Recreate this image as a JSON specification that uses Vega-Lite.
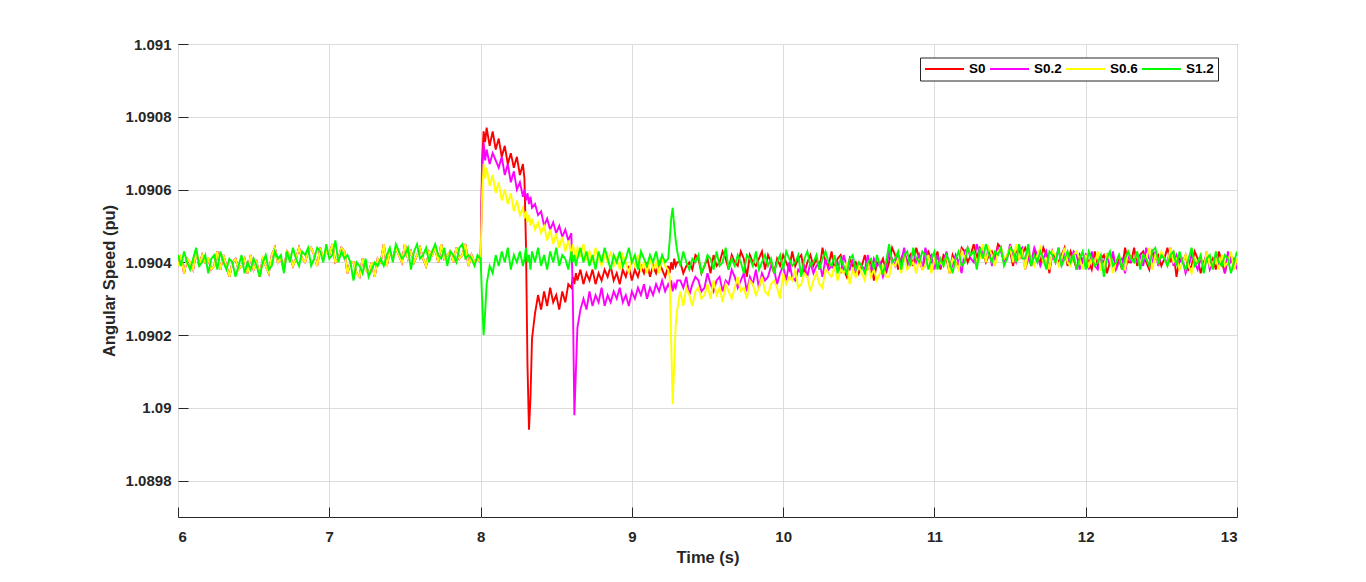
{
  "$schema": "https://vega.github.io/schema/vega-lite/v6.json",
  "width": 1059,
  "height": 473,
  "autosize": "none",
  "padding": {"left": 178, "top": 44, "right": 129, "bottom": 65},
  "background": "white",
  "config": {
    "view": {"stroke": "#262626", "strokeWidth": 1},
    "font": "Liberation Sans",
    "axis": {
      "labelFont": "Liberation Sans",
      "labelFontWeight": "bold",
      "labelFontSize": 15,
      "labelColor": "#262626",
      "titleFont": "Liberation Sans",
      "titleFontWeight": "bold",
      "titleFontSize": 16.5,
      "titleColor": "#262626",
      "domain": false,
      "gridColor": "#dcdcdc",
      "gridWidth": 1,
      "tickColor": "#262626",
      "tickSize": -10
    }
  },
  "data": {
    "values": [
      {"t":6.00,"a":1.09039,"b":1.09039,"c":1.09039,"d":1.09042},
      {"t":6.02,"a":1.09042,"b":1.09042,"c":1.09042,"d":1.09039},
      {"t":6.04,"a":1.09037,"b":1.09037,"c":1.09037,"d":1.09043},
      {"t":6.06,"a":1.09041,"b":1.09041,"c":1.09041,"d":1.0904},
      {"t":6.08,"a":1.0904,"b":1.0904,"c":1.0904,"d":1.09038},
      {"t":6.10,"a":1.09038,"b":1.09038,"c":1.09038,"d":1.09041},
      {"t":6.12,"a":1.09043,"b":1.09043,"c":1.09043,"d":1.09044},
      {"t":6.14,"a":1.09039,"b":1.09039,"c":1.09039,"d":1.09039},
      {"t":6.16,"a":1.09042,"b":1.09042,"c":1.09042,"d":1.0904},
      {"t":6.18,"a":1.0904,"b":1.0904,"c":1.0904,"d":1.09042},
      {"t":6.20,"a":1.09041,"b":1.09041,"c":1.09041,"d":1.09037},
      {"t":6.22,"a":1.09038,"b":1.09038,"c":1.09038,"d":1.09041},
      {"t":6.24,"a":1.09039,"b":1.09039,"c":1.09039,"d":1.09042},
      {"t":6.26,"a":1.09043,"b":1.09043,"c":1.09043,"d":1.09038},
      {"t":6.28,"a":1.09038,"b":1.09038,"c":1.09038,"d":1.09043},
      {"t":6.30,"a":1.09042,"b":1.09042,"c":1.09042,"d":1.0904},
      {"t":6.32,"a":1.09039,"b":1.09039,"c":1.09039,"d":1.09038},
      {"t":6.34,"a":1.09036,"b":1.09036,"c":1.09036,"d":1.09041},
      {"t":6.36,"a":1.0904,"b":1.0904,"c":1.0904,"d":1.0904},
      {"t":6.38,"a":1.09041,"b":1.09041,"c":1.09041,"d":1.09036},
      {"t":6.40,"a":1.09038,"b":1.09038,"c":1.09038,"d":1.09039},
      {"t":6.42,"a":1.09039,"b":1.09039,"c":1.09039,"d":1.09042},
      {"t":6.44,"a":1.09041,"b":1.09041,"c":1.09041,"d":1.09037},
      {"t":6.46,"a":1.09037,"b":1.09037,"c":1.09037,"d":1.0904},
      {"t":6.48,"a":1.09042,"b":1.09042,"c":1.09042,"d":1.09038},
      {"t":6.50,"a":1.09038,"b":1.09038,"c":1.09038,"d":1.09041},
      {"t":6.52,"a":1.0904,"b":1.0904,"c":1.0904,"d":1.09039},
      {"t":6.54,"a":1.09036,"b":1.09036,"c":1.09036,"d":1.09036},
      {"t":6.56,"a":1.09041,"b":1.09041,"c":1.09041,"d":1.0904},
      {"t":6.58,"a":1.09039,"b":1.09039,"c":1.09039,"d":1.09042},
      {"t":6.60,"a":1.09037,"b":1.09037,"c":1.09037,"d":1.09038},
      {"t":6.62,"a":1.09042,"b":1.09042,"c":1.09042,"d":1.09039},
      {"t":6.64,"a":1.09044,"b":1.09044,"c":1.09044,"d":1.09043},
      {"t":6.66,"a":1.0904,"b":1.0904,"c":1.0904,"d":1.09041},
      {"t":6.68,"a":1.09041,"b":1.09041,"c":1.09041,"d":1.09042},
      {"t":6.70,"a":1.09038,"b":1.09038,"c":1.09038,"d":1.09037},
      {"t":6.72,"a":1.09043,"b":1.09043,"c":1.09043,"d":1.09043},
      {"t":6.74,"a":1.09042,"b":1.09042,"c":1.09042,"d":1.0904},
      {"t":6.76,"a":1.09039,"b":1.09039,"c":1.09039,"d":1.09044},
      {"t":6.78,"a":1.09041,"b":1.09041,"c":1.09041,"d":1.09041},
      {"t":6.80,"a":1.09044,"b":1.09044,"c":1.09044,"d":1.09039},
      {"t":6.82,"a":1.09041,"b":1.09041,"c":1.09041,"d":1.09043},
      {"t":6.84,"a":1.0904,"b":1.0904,"c":1.0904,"d":1.09042},
      {"t":6.86,"a":1.09043,"b":1.09043,"c":1.09043,"d":1.09044},
      {"t":6.88,"a":1.09044,"b":1.09044,"c":1.09044,"d":1.09039},
      {"t":6.90,"a":1.09042,"b":1.09042,"c":1.09042,"d":1.09041},
      {"t":6.92,"a":1.09039,"b":1.09039,"c":1.09039,"d":1.09044},
      {"t":6.94,"a":1.09044,"b":1.09044,"c":1.09044,"d":1.09043},
      {"t":6.96,"a":1.09041,"b":1.09041,"c":1.09041,"d":1.0904},
      {"t":6.98,"a":1.09043,"b":1.09043,"c":1.09043,"d":1.09045},
      {"t":7.00,"a":1.09042,"b":1.09042,"c":1.09042,"d":1.09041},
      {"t":7.02,"a":1.09045,"b":1.09045,"c":1.09045,"d":1.09042},
      {"t":7.04,"a":1.0904,"b":1.0904,"c":1.0904,"d":1.09046},
      {"t":7.06,"a":1.09041,"b":1.09041,"c":1.09041,"d":1.0904},
      {"t":7.08,"a":1.09044,"b":1.09044,"c":1.09044,"d":1.09043},
      {"t":7.10,"a":1.09043,"b":1.09043,"c":1.09043,"d":1.09041},
      {"t":7.12,"a":1.09037,"b":1.09037,"c":1.09037,"d":1.09042},
      {"t":7.14,"a":1.0904,"b":1.0904,"c":1.0904,"d":1.0904},
      {"t":7.16,"a":1.0904,"b":1.0904,"c":1.0904,"d":1.09035},
      {"t":7.18,"a":1.09037,"b":1.09037,"c":1.09037,"d":1.0904},
      {"t":7.20,"a":1.09036,"b":1.09036,"c":1.09036,"d":1.09039},
      {"t":7.22,"a":1.09041,"b":1.09041,"c":1.09041,"d":1.09037},
      {"t":7.24,"a":1.09038,"b":1.09038,"c":1.09038,"d":1.09041},
      {"t":7.26,"a":1.09037,"b":1.09037,"c":1.09037,"d":1.09036},
      {"t":7.28,"a":1.0904,"b":1.0904,"c":1.0904,"d":1.09038},
      {"t":7.30,"a":1.09036,"b":1.09036,"c":1.09036,"d":1.0904},
      {"t":7.32,"a":1.09041,"b":1.09041,"c":1.09041,"d":1.09039},
      {"t":7.34,"a":1.0904,"b":1.0904,"c":1.0904,"d":1.09041},
      {"t":7.36,"a":1.09045,"b":1.09045,"c":1.09045,"d":1.09039},
      {"t":7.38,"a":1.09039,"b":1.09039,"c":1.09039,"d":1.09042},
      {"t":7.40,"a":1.09043,"b":1.09043,"c":1.09043,"d":1.09044},
      {"t":7.42,"a":1.09041,"b":1.09041,"c":1.09041,"d":1.0904},
      {"t":7.44,"a":1.09044,"b":1.09044,"c":1.09044,"d":1.09045},
      {"t":7.46,"a":1.09042,"b":1.09042,"c":1.09042,"d":1.09043},
      {"t":7.48,"a":1.0904,"b":1.0904,"c":1.0904,"d":1.09041},
      {"t":7.50,"a":1.09045,"b":1.09045,"c":1.09045,"d":1.09042},
      {"t":7.52,"a":1.09041,"b":1.09041,"c":1.09041,"d":1.09044},
      {"t":7.54,"a":1.09043,"b":1.09043,"c":1.09043,"d":1.09038},
      {"t":7.56,"a":1.0904,"b":1.0904,"c":1.0904,"d":1.09043},
      {"t":7.58,"a":1.09042,"b":1.09042,"c":1.09042,"d":1.09045},
      {"t":7.60,"a":1.09044,"b":1.09044,"c":1.09044,"d":1.09041},
      {"t":7.62,"a":1.09041,"b":1.09041,"c":1.09041,"d":1.09042},
      {"t":7.64,"a":1.09039,"b":1.09039,"c":1.09039,"d":1.09044},
      {"t":7.66,"a":1.09043,"b":1.09043,"c":1.09043,"d":1.0904},
      {"t":7.68,"a":1.09042,"b":1.09042,"c":1.09042,"d":1.09043},
      {"t":7.70,"a":1.09044,"b":1.09044,"c":1.09044,"d":1.09045},
      {"t":7.72,"a":1.0904,"b":1.0904,"c":1.0904,"d":1.09042},
      {"t":7.74,"a":1.09045,"b":1.09045,"c":1.09045,"d":1.09041},
      {"t":7.76,"a":1.09041,"b":1.09041,"c":1.09041,"d":1.09044},
      {"t":7.78,"a":1.09042,"b":1.09042,"c":1.09042,"d":1.09039},
      {"t":7.80,"a":1.09043,"b":1.09043,"c":1.09043,"d":1.09043},
      {"t":7.82,"a":1.0904,"b":1.0904,"c":1.0904,"d":1.09042},
      {"t":7.84,"a":1.09044,"b":1.09044,"c":1.09044,"d":1.0904},
      {"t":7.86,"a":1.09041,"b":1.09041,"c":1.09041,"d":1.09044},
      {"t":7.88,"a":1.09042,"b":1.09042,"c":1.09042,"d":1.09045},
      {"t":7.90,"a":1.09045,"b":1.09045,"c":1.09045,"d":1.09041},
      {"t":7.92,"a":1.09039,"b":1.09039,"c":1.09039,"d":1.09042},
      {"t":7.94,"a":1.09042,"b":1.09042,"c":1.09042,"d":1.09041},
      {"t":7.96,"a":1.0904,"b":1.0904,"c":1.0904,"d":1.09039},
      {"t":7.98,"a":1.09041,"b":1.09041,"c":1.09041,"d":1.09042},
      {"t":8.00,"a":1.0904,"b":1.0904,"c":1.0904,"d":1.09041},
      {"t":8.01,"a":1.09068,"b":1.09064,"c":1.09058,"d":1.0903},
      {"t":8.02,"a":1.09076,"b":1.09073,"c":1.09067,"d":1.0902},
      {"t":8.03,"a":1.09073,"b":1.09068,"c":1.09063,"d":1.09026},
      {"t":8.04,"a":1.09077,"b":1.09071,"c":1.09066,"d":1.09034},
      {"t":8.06,"a":1.09072,"b":1.09067,"c":1.09061,"d":1.09039},
      {"t":8.08,"a":1.09076,"b":1.0907,"c":1.09064,"d":1.09037},
      {"t":8.10,"a":1.09071,"b":1.09068,"c":1.09059,"d":1.09042},
      {"t":8.12,"a":1.09074,"b":1.09066,"c":1.09062,"d":1.09039},
      {"t":8.14,"a":1.09069,"b":1.09069,"c":1.09057,"d":1.09043},
      {"t":8.16,"a":1.09072,"b":1.09064,"c":1.0906,"d":1.0904},
      {"t":8.18,"a":1.09067,"b":1.09067,"c":1.09056,"d":1.09044},
      {"t":8.20,"a":1.0907,"b":1.09062,"c":1.09059,"d":1.09038},
      {"t":8.22,"a":1.09066,"b":1.09065,"c":1.09054,"d":1.09042},
      {"t":8.24,"a":1.09069,"b":1.0906,"c":1.09057,"d":1.0904},
      {"t":8.26,"a":1.09064,"b":1.09062,"c":1.09053,"d":1.09043},
      {"t":8.28,"a":1.09067,"b":1.09058,"c":1.09055,"d":1.09039},
      {"t":8.29,"a":1.09063,"b":1.0906,"c":1.09052,"d":1.09041},
      {"t":8.30,"a":1.09045,"b":1.09057,"c":1.09054,"d":1.09044},
      {"t":8.31,"a":1.09012,"b":1.09059,"c":1.09051,"d":1.0904},
      {"t":8.32,"a":1.08994,"b":1.09056,"c":1.09053,"d":1.09042},
      {"t":8.33,"a":1.09003,"b":1.09058,"c":1.0905,"d":1.09038},
      {"t":8.34,"a":1.09019,"b":1.09055,"c":1.09052,"d":1.09043},
      {"t":8.36,"a":1.09026,"b":1.09056,"c":1.09049,"d":1.0904},
      {"t":8.38,"a":1.09031,"b":1.09053,"c":1.09051,"d":1.09044},
      {"t":8.40,"a":1.09027,"b":1.09054,"c":1.09048,"d":1.09039},
      {"t":8.42,"a":1.09032,"b":1.0905,"c":1.0905,"d":1.09042},
      {"t":8.44,"a":1.09028,"b":1.09052,"c":1.09046,"d":1.09038},
      {"t":8.46,"a":1.09033,"b":1.09049,"c":1.09049,"d":1.09043},
      {"t":8.48,"a":1.09029,"b":1.09051,"c":1.09045,"d":1.0904},
      {"t":8.50,"a":1.09031,"b":1.09048,"c":1.09048,"d":1.09044},
      {"t":8.52,"a":1.09027,"b":1.0905,"c":1.09044,"d":1.09039},
      {"t":8.54,"a":1.09032,"b":1.09047,"c":1.09047,"d":1.09042},
      {"t":8.56,"a":1.09029,"b":1.09049,"c":1.09043,"d":1.09041},
      {"t":8.58,"a":1.09034,"b":1.09046,"c":1.09046,"d":1.09038},
      {"t":8.60,"a":1.09033,"b":1.09048,"c":1.09042,"d":1.09043},
      {"t":8.61,"a":1.09036,"b":1.0903,"c":1.09045,"d":1.0904},
      {"t":8.62,"a":1.09034,"b":1.08998,"c":1.09043,"d":1.09042},
      {"t":8.63,"a":1.09037,"b":1.0901,"c":1.09041,"d":1.09039},
      {"t":8.64,"a":1.09035,"b":1.09022,"c":1.09044,"d":1.09041},
      {"t":8.66,"a":1.09038,"b":1.09027,"c":1.09042,"d":1.09044},
      {"t":8.68,"a":1.09034,"b":1.0903,"c":1.09045,"d":1.0904},
      {"t":8.70,"a":1.09037,"b":1.09027,"c":1.09041,"d":1.09043},
      {"t":8.72,"a":1.09035,"b":1.09032,"c":1.09043,"d":1.09039},
      {"t":8.74,"a":1.09038,"b":1.09028,"c":1.0904,"d":1.09042},
      {"t":8.76,"a":1.09034,"b":1.09031,"c":1.09044,"d":1.09038},
      {"t":8.78,"a":1.09037,"b":1.09029,"c":1.09041,"d":1.09043},
      {"t":8.80,"a":1.09035,"b":1.09033,"c":1.09039,"d":1.0904},
      {"t":8.82,"a":1.09038,"b":1.09028,"c":1.09042,"d":1.09044},
      {"t":8.84,"a":1.09036,"b":1.09031,"c":1.0904,"d":1.09041},
      {"t":8.86,"a":1.09039,"b":1.09029,"c":1.09043,"d":1.09038},
      {"t":8.88,"a":1.09035,"b":1.09032,"c":1.09039,"d":1.09042},
      {"t":8.90,"a":1.09037,"b":1.0903,"c":1.09041,"d":1.0904},
      {"t":8.92,"a":1.09034,"b":1.09033,"c":1.09038,"d":1.09043},
      {"t":8.94,"a":1.09038,"b":1.09029,"c":1.09042,"d":1.09039},
      {"t":8.96,"a":1.09036,"b":1.09031,"c":1.0904,"d":1.09041},
      {"t":8.98,"a":1.09039,"b":1.09028,"c":1.09037,"d":1.09044},
      {"t":9.00,"a":1.09035,"b":1.09032,"c":1.09041,"d":1.0904},
      {"t":9.02,"a":1.09038,"b":1.0903,"c":1.09039,"d":1.09042},
      {"t":9.04,"a":1.09036,"b":1.09033,"c":1.09042,"d":1.09038},
      {"t":9.06,"a":1.09039,"b":1.09031,"c":1.09038,"d":1.09043},
      {"t":9.08,"a":1.09037,"b":1.09034,"c":1.0904,"d":1.09041},
      {"t":9.10,"a":1.0904,"b":1.0903,"c":1.09037,"d":1.09039},
      {"t":9.12,"a":1.09036,"b":1.09033,"c":1.09041,"d":1.09042},
      {"t":9.14,"a":1.09039,"b":1.09031,"c":1.09038,"d":1.0904},
      {"t":9.16,"a":1.09037,"b":1.09034,"c":1.0904,"d":1.09043},
      {"t":9.18,"a":1.0904,"b":1.09032,"c":1.09037,"d":1.09039},
      {"t":9.20,"a":1.09038,"b":1.09035,"c":1.09041,"d":1.09042},
      {"t":9.22,"a":1.09036,"b":1.09032,"c":1.09039,"d":1.0904},
      {"t":9.24,"a":1.09039,"b":1.09034,"c":1.09038,"d":1.09041},
      {"t":9.25,"a":1.09037,"b":1.09033,"c":1.09036,"d":1.09046},
      {"t":9.26,"a":1.0904,"b":1.09035,"c":1.09018,"d":1.09052},
      {"t":9.27,"a":1.09038,"b":1.09032,"c":1.09001,"d":1.09055},
      {"t":9.28,"a":1.09041,"b":1.09034,"c":1.09012,"d":1.0905},
      {"t":9.29,"a":1.09039,"b":1.09033,"c":1.09023,"d":1.09046},
      {"t":9.30,"a":1.0904,"b":1.09035,"c":1.09027,"d":1.09043},
      {"t":9.32,"a":1.0904,"b":1.09035,"c":1.09032,"d":1.09039},
      {"t":9.34,"a":1.09037,"b":1.09033,"c":1.09028,"d":1.09043},
      {"t":9.36,"a":1.09039,"b":1.09036,"c":1.09033,"d":1.0904},
      {"t":9.38,"a":1.0904,"b":1.09031,"c":1.09031,"d":1.09038},
      {"t":9.40,"a":1.09038,"b":1.09034,"c":1.09028,"d":1.09041},
      {"t":9.42,"a":1.09042,"b":1.09036,"c":1.09032,"d":1.0904},
      {"t":9.44,"a":1.09041,"b":1.09035,"c":1.09033,"d":1.09042},
      {"t":9.46,"a":1.09037,"b":1.09032,"c":1.0903,"d":1.09037},
      {"t":9.48,"a":1.09039,"b":1.09033,"c":1.09031,"d":1.09039},
      {"t":9.50,"a":1.09041,"b":1.09037,"c":1.09034,"d":1.09042},
      {"t":9.52,"a":1.09037,"b":1.09034,"c":1.0903,"d":1.09041},
      {"t":9.54,"a":1.09042,"b":1.09032,"c":1.09035,"d":1.09038},
      {"t":9.56,"a":1.09039,"b":1.09035,"c":1.09031,"d":1.09043},
      {"t":9.58,"a":1.0904,"b":1.09036,"c":1.09033,"d":1.09039},
      {"t":9.60,"a":1.09043,"b":1.09032,"c":1.09029,"d":1.0904},
      {"t":9.62,"a":1.09041,"b":1.09035,"c":1.09034,"d":1.09044},
      {"t":9.64,"a":1.09038,"b":1.09034,"c":1.09032,"d":1.09038},
      {"t":9.66,"a":1.09042,"b":1.09038,"c":1.0903,"d":1.09041},
      {"t":9.68,"a":1.0904,"b":1.09036,"c":1.09033,"d":1.09039},
      {"t":9.70,"a":1.09039,"b":1.09033,"c":1.09036,"d":1.09042},
      {"t":9.72,"a":1.09043,"b":1.09035,"c":1.09032,"d":1.0904},
      {"t":9.74,"a":1.09041,"b":1.09037,"c":1.09033,"d":1.09037},
      {"t":9.76,"a":1.09036,"b":1.09032,"c":1.0903,"d":1.09042},
      {"t":9.78,"a":1.09042,"b":1.09036,"c":1.09035,"d":1.09041},
      {"t":9.80,"a":1.0904,"b":1.09034,"c":1.09034,"d":1.09039},
      {"t":9.82,"a":1.09039,"b":1.09038,"c":1.09031,"d":1.09043},
      {"t":9.84,"a":1.09041,"b":1.09033,"c":1.09033,"d":1.09038},
      {"t":9.86,"a":1.09043,"b":1.09037,"c":1.09036,"d":1.0904},
      {"t":9.88,"a":1.09038,"b":1.09035,"c":1.09032,"d":1.09042},
      {"t":9.90,"a":1.09042,"b":1.09036,"c":1.09031,"d":1.09039},
      {"t":9.92,"a":1.0904,"b":1.09039,"c":1.09034,"d":1.09041},
      {"t":9.94,"a":1.09037,"b":1.09038,"c":1.09035,"d":1.09037},
      {"t":9.96,"a":1.09041,"b":1.09034,"c":1.09033,"d":1.0904},
      {"t":9.98,"a":1.09039,"b":1.09037,"c":1.0903,"d":1.09042},
      {"t":10.00,"a":1.09042,"b":1.09039,"c":1.09037,"d":1.09038},
      {"t":10.02,"a":1.0904,"b":1.09035,"c":1.09034,"d":1.09043},
      {"t":10.04,"a":1.09038,"b":1.0904,"c":1.09036,"d":1.09041},
      {"t":10.06,"a":1.09043,"b":1.09036,"c":1.09035,"d":1.09039},
      {"t":10.08,"a":1.09039,"b":1.09035,"c":1.09038,"d":1.0904},
      {"t":10.10,"a":1.09041,"b":1.09038,"c":1.09033,"d":1.09042},
      {"t":10.12,"a":1.09042,"b":1.09037,"c":1.09034,"d":1.09036},
      {"t":10.14,"a":1.09037,"b":1.09039,"c":1.09037,"d":1.09041},
      {"t":10.16,"a":1.0904,"b":1.09036,"c":1.09036,"d":1.09043},
      {"t":10.18,"a":1.09042,"b":1.0904,"c":1.09032,"d":1.09039},
      {"t":10.20,"a":1.09039,"b":1.09037,"c":1.09035,"d":1.0904},
      {"t":10.22,"a":1.09041,"b":1.09039,"c":1.09037,"d":1.09042},
      {"t":10.24,"a":1.09038,"b":1.0904,"c":1.09034,"d":1.09038},
      {"t":10.26,"a":1.09044,"b":1.09036,"c":1.09033,"d":1.09041},
      {"t":10.28,"a":1.0904,"b":1.09041,"c":1.09038,"d":1.09043},
      {"t":10.30,"a":1.09039,"b":1.09038,"c":1.09037,"d":1.0904},
      {"t":10.32,"a":1.09043,"b":1.09039,"c":1.09036,"d":1.09039},
      {"t":10.34,"a":1.09038,"b":1.09038,"c":1.09039,"d":1.09042},
      {"t":10.36,"a":1.09041,"b":1.0904,"c":1.09035,"d":1.09037},
      {"t":10.38,"a":1.09042,"b":1.09037,"c":1.09038,"d":1.09041},
      {"t":10.40,"a":1.09038,"b":1.09042,"c":1.09037,"d":1.09039},
      {"t":10.42,"a":1.09036,"b":1.09039,"c":1.0904,"d":1.09037},
      {"t":10.44,"a":1.09041,"b":1.09038,"c":1.09034,"d":1.09041},
      {"t":10.46,"a":1.09039,"b":1.09041,"c":1.09038,"d":1.09042},
      {"t":10.48,"a":1.0904,"b":1.09037,"c":1.09036,"d":1.09038},
      {"t":10.50,"a":1.09037,"b":1.0904,"c":1.09039,"d":1.0904},
      {"t":10.52,"a":1.09039,"b":1.09039,"c":1.09037,"d":1.09039},
      {"t":10.54,"a":1.09042,"b":1.09038,"c":1.09035,"d":1.09037},
      {"t":10.56,"a":1.09038,"b":1.09042,"c":1.0904,"d":1.0904},
      {"t":10.58,"a":1.09041,"b":1.09037,"c":1.09036,"d":1.09041},
      {"t":10.60,"a":1.09035,"b":1.09041,"c":1.09038,"d":1.09038},
      {"t":10.62,"a":1.0904,"b":1.09039,"c":1.09035,"d":1.09042},
      {"t":10.64,"a":1.09039,"b":1.0904,"c":1.09037,"d":1.09039},
      {"t":10.66,"a":1.09041,"b":1.09036,"c":1.09039,"d":1.09037},
      {"t":10.68,"a":1.09037,"b":1.09038,"c":1.09036,"d":1.0904},
      {"t":10.70,"a":1.0904,"b":1.09043,"c":1.09036,"d":1.09045},
      {"t":10.72,"a":1.09044,"b":1.09041,"c":1.0904,"d":1.0904},
      {"t":10.74,"a":1.09042,"b":1.09039,"c":1.09039,"d":1.09041},
      {"t":10.76,"a":1.09038,"b":1.09042,"c":1.09041,"d":1.09043},
      {"t":10.78,"a":1.09041,"b":1.0904,"c":1.09037,"d":1.09038},
      {"t":10.80,"a":1.09043,"b":1.09044,"c":1.09042,"d":1.09042},
      {"t":10.82,"a":1.0904,"b":1.09039,"c":1.09038,"d":1.09043},
      {"t":10.84,"a":1.09042,"b":1.09041,"c":1.09039,"d":1.09039},
      {"t":10.86,"a":1.09039,"b":1.09043,"c":1.0904,"d":1.09044},
      {"t":10.88,"a":1.09044,"b":1.0904,"c":1.09037,"d":1.09041},
      {"t":10.90,"a":1.09041,"b":1.09042,"c":1.09041,"d":1.0904},
      {"t":10.92,"a":1.09038,"b":1.09038,"c":1.09038,"d":1.09043},
      {"t":10.94,"a":1.09042,"b":1.09044,"c":1.09039,"d":1.09042},
      {"t":10.96,"a":1.09043,"b":1.09041,"c":1.09042,"d":1.09038},
      {"t":10.98,"a":1.0904,"b":1.09042,"c":1.09037,"d":1.09041},
      {"t":11.00,"a":1.0904,"b":1.09038,"c":1.09041,"d":1.09043},
      {"t":11.02,"a":1.09043,"b":1.09042,"c":1.09039,"d":1.09038},
      {"t":11.04,"a":1.09038,"b":1.09039,"c":1.0904,"d":1.09041},
      {"t":11.06,"a":1.09042,"b":1.0904,"c":1.09039,"d":1.09039},
      {"t":11.08,"a":1.09041,"b":1.09043,"c":1.09042,"d":1.09042},
      {"t":11.10,"a":1.09037,"b":1.09038,"c":1.09037,"d":1.0904},
      {"t":11.12,"a":1.09042,"b":1.09039,"c":1.09041,"d":1.09037},
      {"t":11.14,"a":1.0904,"b":1.09042,"c":1.0904,"d":1.09041},
      {"t":11.16,"a":1.09039,"b":1.0904,"c":1.09038,"d":1.09043},
      {"t":11.18,"a":1.09044,"b":1.09037,"c":1.09043,"d":1.09039},
      {"t":11.20,"a":1.09043,"b":1.09043,"c":1.09041,"d":1.0904},
      {"t":11.22,"a":1.0904,"b":1.09044,"c":1.09044,"d":1.09044},
      {"t":11.24,"a":1.09042,"b":1.09041,"c":1.09042,"d":1.09042},
      {"t":11.26,"a":1.09045,"b":1.0904,"c":1.09043,"d":1.09043},
      {"t":11.28,"a":1.09041,"b":1.09045,"c":1.0904,"d":1.09038},
      {"t":11.30,"a":1.09044,"b":1.09042,"c":1.09041,"d":1.09044},
      {"t":11.32,"a":1.09043,"b":1.09043,"c":1.09045,"d":1.09041},
      {"t":11.34,"a":1.0904,"b":1.09041,"c":1.0904,"d":1.09045},
      {"t":11.36,"a":1.09042,"b":1.09044,"c":1.09044,"d":1.09042},
      {"t":11.38,"a":1.09043,"b":1.09039,"c":1.09042,"d":1.0904},
      {"t":11.40,"a":1.09041,"b":1.09042,"c":1.09039,"d":1.09043},
      {"t":11.42,"a":1.09045,"b":1.09044,"c":1.09043,"d":1.09042},
      {"t":11.44,"a":1.09044,"b":1.09043,"c":1.09044,"d":1.09044},
      {"t":11.46,"a":1.0904,"b":1.0904,"c":1.09041,"d":1.09039},
      {"t":11.48,"a":1.09042,"b":1.09041,"c":1.09042,"d":1.09041},
      {"t":11.50,"a":1.09043,"b":1.09045,"c":1.09044,"d":1.09044},
      {"t":11.52,"a":1.09039,"b":1.09042,"c":1.0904,"d":1.09043},
      {"t":11.54,"a":1.09044,"b":1.0904,"c":1.09045,"d":1.0904},
      {"t":11.56,"a":1.09041,"b":1.09043,"c":1.09041,"d":1.09045},
      {"t":11.58,"a":1.09042,"b":1.09044,"c":1.09043,"d":1.09041},
      {"t":11.60,"a":1.09044,"b":1.09038,"c":1.09038,"d":1.09041},
      {"t":11.62,"a":1.09042,"b":1.09041,"c":1.09043,"d":1.09045},
      {"t":11.64,"a":1.09039,"b":1.0904,"c":1.09041,"d":1.09039},
      {"t":11.66,"a":1.09043,"b":1.09044,"c":1.09039,"d":1.09042},
      {"t":11.68,"a":1.09041,"b":1.09042,"c":1.09042,"d":1.0904},
      {"t":11.70,"a":1.0904,"b":1.09039,"c":1.09044,"d":1.09043},
      {"t":11.72,"a":1.09044,"b":1.09041,"c":1.0904,"d":1.09041},
      {"t":11.74,"a":1.09042,"b":1.09043,"c":1.09041,"d":1.09038},
      {"t":11.76,"a":1.09037,"b":1.09038,"c":1.09038,"d":1.09043},
      {"t":11.78,"a":1.09043,"b":1.09042,"c":1.09043,"d":1.09042},
      {"t":11.80,"a":1.09041,"b":1.0904,"c":1.09042,"d":1.0904},
      {"t":11.82,"a":1.0904,"b":1.09044,"c":1.09039,"d":1.09044},
      {"t":11.84,"a":1.09042,"b":1.09039,"c":1.09041,"d":1.09039},
      {"t":11.86,"a":1.09044,"b":1.09043,"c":1.09044,"d":1.09041},
      {"t":11.88,"a":1.09039,"b":1.09041,"c":1.0904,"d":1.09043},
      {"t":11.90,"a":1.09043,"b":1.0904,"c":1.09039,"d":1.0904},
      {"t":11.92,"a":1.09041,"b":1.09043,"c":1.09042,"d":1.09042},
      {"t":11.94,"a":1.09038,"b":1.09042,"c":1.09043,"d":1.09038},
      {"t":11.96,"a":1.09042,"b":1.09038,"c":1.09041,"d":1.09041},
      {"t":11.98,"a":1.0904,"b":1.09041,"c":1.09038,"d":1.09043},
      {"t":12.00,"a":1.09042,"b":1.09042,"c":1.09042,"d":1.09038},
      {"t":12.02,"a":1.0904,"b":1.09038,"c":1.09039,"d":1.09043},
      {"t":12.04,"a":1.09038,"b":1.09043,"c":1.09041,"d":1.09041},
      {"t":12.06,"a":1.09043,"b":1.09039,"c":1.0904,"d":1.09039},
      {"t":12.08,"a":1.09039,"b":1.09038,"c":1.09043,"d":1.0904},
      {"t":12.10,"a":1.09041,"b":1.09041,"c":1.09038,"d":1.09042},
      {"t":12.12,"a":1.09042,"b":1.0904,"c":1.09039,"d":1.09036},
      {"t":12.14,"a":1.09037,"b":1.09042,"c":1.09042,"d":1.09041},
      {"t":12.16,"a":1.0904,"b":1.09039,"c":1.09041,"d":1.09043},
      {"t":12.18,"a":1.09042,"b":1.09043,"c":1.09037,"d":1.09039},
      {"t":12.20,"a":1.09039,"b":1.09038,"c":1.0904,"d":1.0904},
      {"t":12.22,"a":1.09041,"b":1.0904,"c":1.09042,"d":1.09042},
      {"t":12.24,"a":1.09038,"b":1.09041,"c":1.09039,"d":1.09038},
      {"t":12.26,"a":1.09044,"b":1.09037,"c":1.09038,"d":1.09041},
      {"t":12.28,"a":1.0904,"b":1.09042,"c":1.09043,"d":1.09043},
      {"t":12.30,"a":1.0904,"b":1.0904,"c":1.09041,"d":1.09041},
      {"t":12.32,"a":1.09044,"b":1.09041,"c":1.0904,"d":1.0904},
      {"t":12.34,"a":1.09039,"b":1.0904,"c":1.09043,"d":1.09043},
      {"t":12.36,"a":1.09042,"b":1.09042,"c":1.09039,"d":1.09038},
      {"t":12.38,"a":1.09043,"b":1.09039,"c":1.09042,"d":1.09042},
      {"t":12.40,"a":1.0904,"b":1.09044,"c":1.09041,"d":1.09041},
      {"t":12.42,"a":1.09038,"b":1.09041,"c":1.09044,"d":1.09039},
      {"t":12.44,"a":1.09043,"b":1.0904,"c":1.09038,"d":1.09043},
      {"t":12.46,"a":1.09041,"b":1.09043,"c":1.09042,"d":1.09044},
      {"t":12.48,"a":1.09042,"b":1.09039,"c":1.0904,"d":1.0904},
      {"t":12.50,"a":1.09039,"b":1.09042,"c":1.09043,"d":1.09042},
      {"t":12.52,"a":1.09041,"b":1.09041,"c":1.09041,"d":1.09041},
      {"t":12.54,"a":1.09044,"b":1.0904,"c":1.09039,"d":1.09039},
      {"t":12.56,"a":1.0904,"b":1.09044,"c":1.09044,"d":1.09042},
      {"t":12.58,"a":1.09043,"b":1.09039,"c":1.0904,"d":1.09043},
      {"t":12.60,"a":1.09036,"b":1.09042,"c":1.09041,"d":1.09039},
      {"t":12.62,"a":1.09041,"b":1.0904,"c":1.09038,"d":1.09043},
      {"t":12.64,"a":1.0904,"b":1.09041,"c":1.0904,"d":1.0904},
      {"t":12.66,"a":1.09042,"b":1.09037,"c":1.09042,"d":1.09038},
      {"t":12.68,"a":1.09038,"b":1.09039,"c":1.09039,"d":1.09041},
      {"t":12.70,"a":1.09039,"b":1.09042,"c":1.09037,"d":1.09044},
      {"t":12.72,"a":1.09043,"b":1.0904,"c":1.09041,"d":1.09039},
      {"t":12.74,"a":1.09041,"b":1.09038,"c":1.0904,"d":1.0904},
      {"t":12.76,"a":1.09037,"b":1.09041,"c":1.09042,"d":1.09042},
      {"t":12.78,"a":1.0904,"b":1.09039,"c":1.09038,"d":1.09037},
      {"t":12.80,"a":1.09042,"b":1.09043,"c":1.09043,"d":1.09041},
      {"t":12.82,"a":1.09039,"b":1.09038,"c":1.09039,"d":1.09042},
      {"t":12.84,"a":1.09041,"b":1.0904,"c":1.0904,"d":1.09038},
      {"t":12.86,"a":1.09038,"b":1.09042,"c":1.09041,"d":1.09043},
      {"t":12.88,"a":1.09043,"b":1.09039,"c":1.09038,"d":1.0904},
      {"t":12.90,"a":1.0904,"b":1.09041,"c":1.09042,"d":1.09039},
      {"t":12.92,"a":1.09037,"b":1.09037,"c":1.09039,"d":1.09042},
      {"t":12.94,"a":1.09041,"b":1.09043,"c":1.0904,"d":1.09041},
      {"t":12.96,"a":1.09042,"b":1.0904,"c":1.09043,"d":1.09037},
      {"t":12.98,"a":1.09039,"b":1.09041,"c":1.09038,"d":1.0904},
      {"t":13.00,"a":1.0904,"b":1.09038,"c":1.09041,"d":1.09043}
    ]
  },
  "transform": [{"fold": ["a", "b", "c", "d"], "as": ["s", "v"]}],
  "mark": {"type": "line", "clip": true},
  "encoding": {
    "x": {
      "field": "t",
      "type": "quantitative",
      "title": "Time (s)",
      "scale": {"domain": [6, 13], "nice": false, "zero": false},
      "axis": {"values": [6, 7, 8, 9, 10, 11, 12, 13], "labelPadding": 22, "titlePadding": 5}
    },
    "y": {
      "field": "v",
      "type": "quantitative",
      "title": "Angular Speed (pu)",
      "scale": {"domain": [1.0897, 1.091], "nice": false, "zero": false},
      "axis": {
        "values": [1.0898, 1.09, 1.0902, 1.0904, 1.0906, 1.0908, 1.091],
        "format": ".4~f",
        "labelPadding": 17,
        "titlePadding": 8
      }
    },
    "strokeWidth": {
      "field": "s",
      "type": "nominal",
      "scale": {"domain": ["a", "b", "c", "d"], "range": [1.9, 1.9, 2.3, 1.9]},
      "legend": null
    },
    "color": {
      "field": "s",
      "type": "nominal",
      "scale": {"domain": ["a", "b", "c", "d"], "range": ["#ff0000", "#ff00ff", "#ffff00", "#00ff00"]},
      "legend": {
        "orient": "none",
        "legendX": 742,
        "legendY": 13.5,
        "direction": "horizontal",
        "title": null,
        "symbolType": "stroke",
        "symbolSize": 1521,
        "symbolStrokeWidth": 1.5,
        "clipHeight": 15,
        "labelFont": "Liberation Sans",
        "labelFontWeight": "bold",
        "labelFontSize": 13.5,
        "labelColor": "black",
        "labelOffset": 4,
        "columnPadding": 3,
        "strokeColor": "#262626",
        "fillColor": "white",
        "padding": 4,
        "labelExpr": "datum.label == 'a' ? 'S0' : datum.label == 'b' ? 'S0.2' : datum.label == 'c' ? 'S0.6' : 'S1.2'"
      }
    }
  }
}
